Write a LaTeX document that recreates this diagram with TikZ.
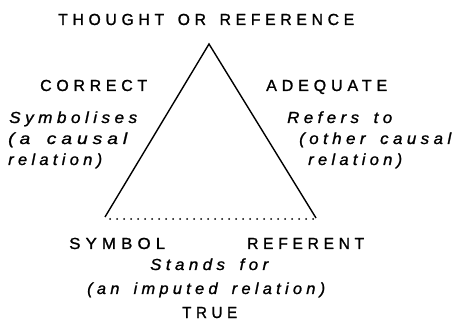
\documentclass[tikz,border=0pt]{standalone}
\usepackage{fontspec}
\usepackage{graphicx}
\setmainfont{Liberation Sans}
\newfontfamily\capsfont[LetterSpace=30,FakeBold=1.2,WordSpace=1.5]{Liberation Sans}
\newfontfamily\slfont[LetterSpace=26,FakeBold=1.2,WordSpace=1.6]{Liberation Sans}
\newcommand\fitw[2]{\resizebox{#1pt}{\height}{#2}}
\begin{document}
\begin{tikzpicture}[x=1pt,y=-1pt,
  caps/.style={inner sep=0pt,anchor=base west,font=\capsfont\fontsize{16}{18}\selectfont},
  slant/.style={inner sep=0pt,anchor=base west,font=\slfont\itshape\fontsize{16}{18}\selectfont},
  edge/.style={line width=1.4pt},
  dotedge/.style={line width=2pt,line cap=round,dash pattern=on 0pt off 7pt}]
\useasboundingbox (0,0) rectangle (455,320);
\coordinate (apex) at (209,44);
\coordinate (sym) at (105,217);
\coordinate (ref) at (316,218);
\draw[edge] (sym) -- (apex) -- (ref);
\coordinate (d1) at (110,219);
\coordinate (d2) at (314,219);
\draw[dotedge] (d1) -- (d2);
\node[caps] (title) at (58,25) {\fitw{296}{THOUGHT OR REFERENCE}};
\node[caps] (correct) at (40,91) {\fitw{107}{CORRECT}};
\node[caps] (adequate) at (266,91) {\fitw{121}{ADEQUATE}};
\node[slant] (l1) at (9,123) {\fitw{128}{Symbolises}};
\node[slant] (l2) at (8,144) {\fitw{119}{(a causal}};
\node[slant] (l3) at (8,165) {\fitw{94}{relation)}};
\node[slant] (r1) at (287,123) {\fitw{105}{Refers to}};
\node[slant] (r2) at (299,144) {\fitw{152}{(other causal}};
\node[slant] (r3) at (308,165) {\fitw{94}{relation)}};
\node[caps] (symbol) at (69,249) {\fitw{96}{SYMBOL}};
\node[caps] (referent) at (247,249) {\fitw{117}{REFERENT}};
\node[slant] (stands) at (150,270) {\fitw{118}{Stands for}};
\node[slant] (imputed) at (87,294) {\fitw{238}{(an imputed relation)}};
\node[caps] (true) at (182,318) {\fitw{55}{TRUE}};
\end{tikzpicture}
\end{document}
